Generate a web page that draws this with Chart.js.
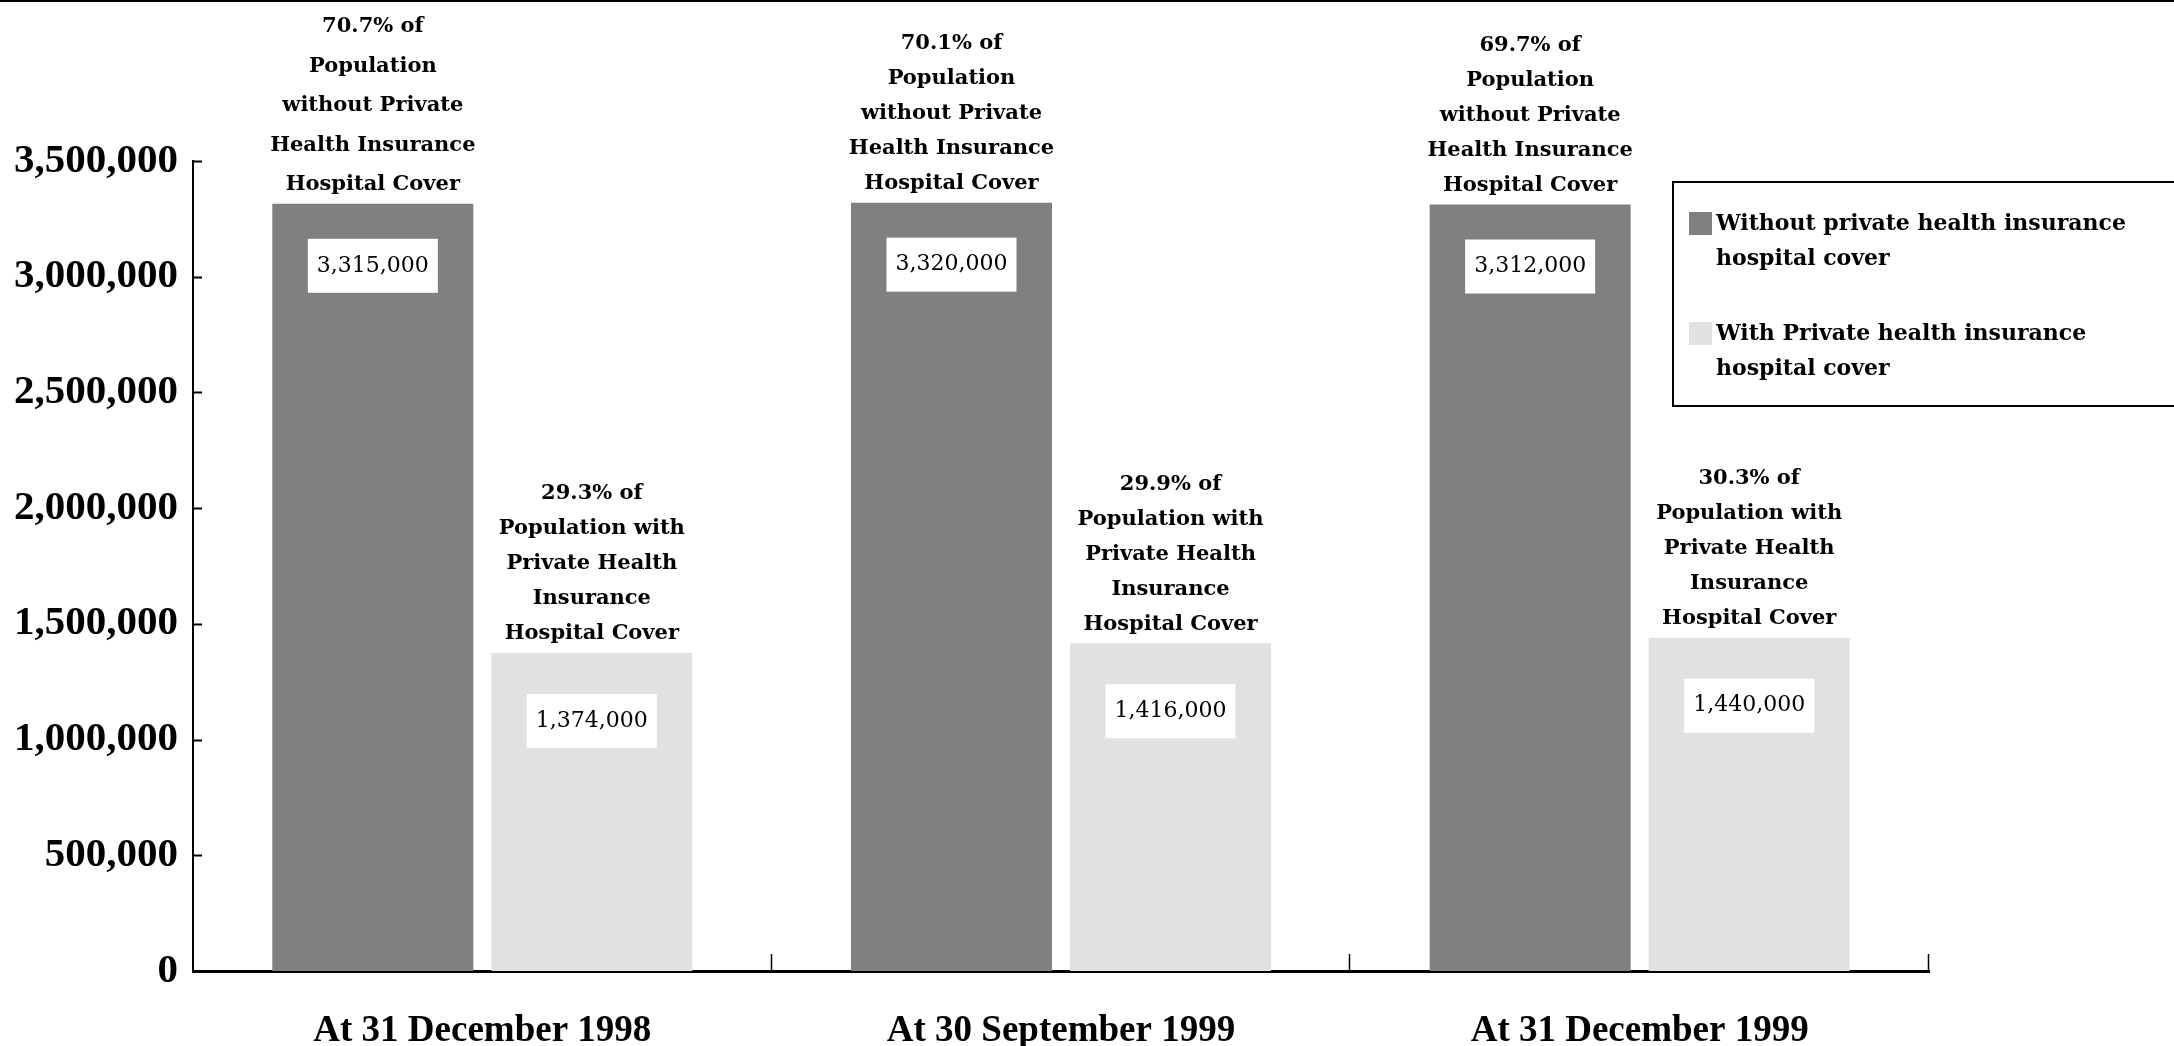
<!DOCTYPE html>
<html>
<head>
  <title>Hospital cover population</title>
  <script src="https://cdn.jsdelivr.net/npm/chart.js@4.4.0/dist/chart.umd.min.js"></script>
  <style>
    body { margin: 0; background: #fff; }
    canvas { display: block; }
  </style>
</head>
<body>
  <canvas id="coverChart" width="2174" height="1046"></canvas>

  <script>
    // Datos del grafico
    const categories = ['At 31 December 1998', 'At 30 September 1999', 'At 31 December 1999'];
    const withoutCover = [3315000, 3320000, 3312000];
    const withCover = [1374000, 1416000, 1440000];
    const withoutPct = ['70.7%', '70.1%', '69.7%'];
    const withPct = ['29.3%', '29.9%', '30.3%'];
    const seriesNames = [
      ['Without private health insurance', 'hospital cover'],
      ['With Private health insurance', 'hospital cover']
    ];
    const yMax = 3500000;
    const yStep = 500000;

    const darkGrey = '#808080';
    const lightGrey = '#e1e1e1';

    // Textos encima de las barras
    function annotationLines(ds, i) {
      if (ds === 0) {
        return [withoutPct[i] + ' of', 'Population', 'without Private', 'Health Insurance', 'Hospital Cover'];
      }
      return [withPct[i] + ' of', 'Population with', 'Private Health', 'Insurance', 'Hospital Cover'];
    }

    const fmt = v => v.toLocaleString('en-US');

    const decorPlugin = {
      id: 'decor',
      afterDraw(chart) {
        const ctx = chart.ctx;
        const area = chart.chartArea;
        const x = chart.scales.x;
        const y = chart.scales.y;
        ctx.save();

        // linea superior
        ctx.strokeStyle = '#000';
        ctx.lineWidth = 2;
        ctx.beginPath();
        ctx.moveTo(0, 1);
        ctx.lineTo(chart.width, 1);
        ctx.stroke();

        // marcas del eje y (hacia dentro)
        ctx.lineWidth = 2;
        for (let v = 0; v <= yMax; v += yStep) {
          const py = Math.round(y.getPixelForValue(v)) + 0.5;
          ctx.beginPath();
          ctx.moveTo(area.left, py);
          ctx.lineTo(area.left + 9, py);
          ctx.stroke();
        }

        // separadores de categorias
        const half = (x.getPixelForValue(1) - x.getPixelForValue(0)) / 2;
        ctx.lineWidth = 1.5;
        for (let i = 0; i < categories.length; i++) {
          const px = Math.round(x.getPixelForValue(i) + half) - 0.5;
          ctx.beginPath();
          ctx.moveTo(px, area.bottom);
          ctx.lineTo(px, area.bottom - 17);
          ctx.stroke();
        }

        // etiquetas de barras
        ctx.textAlign = 'center';
        ctx.textBaseline = 'middle';
        chart.data.datasets.forEach((d, ds) => {
          const meta = chart.getDatasetMeta(ds);
          meta.data.forEach((bar, i) => {
            const lines = annotationLines(ds, i);
            const gap = (ds === 0 && i === 0) ? 39.5 : 35;
            ctx.fillStyle = '#000';
            ctx.font = 'bold 21px "DejaVu Serif"';
            lines.forEach((t, k) => {
              const ly = bar.y - 19 - (lines.length - 1 - k) * gap;
              ctx.fillText(t, bar.x, ly);
            });

            // caja blanca con el valor
            const cy = bar.y + (ds === 0 ? 62 : 68);
            ctx.fillStyle = '#fff';
            ctx.fillRect(bar.x - 65, cy - 27, 130, 54);
            ctx.fillStyle = '#000';
            ctx.font = '22px "DejaVu Serif"';
            ctx.fillText(fmt(d.data[i]), bar.x, cy);
          });
        });

        // leyenda
        const lx = 1673, ly = 182;
        ctx.fillStyle = '#fff';
        ctx.fillRect(lx, ly, chart.width - lx + 5, 224);
        ctx.strokeStyle = '#000';
        ctx.lineWidth = 2;
        ctx.strokeRect(lx, ly, chart.width - lx + 5, 224);
        const colors = [darkGrey, lightGrey];
        const entryTop = [212, 322];
        ctx.textAlign = 'left';
        ctx.font = 'bold 22px "DejaVu Serif"';
        seriesNames.forEach((lines, k) => {
          ctx.fillStyle = colors[k];
          ctx.fillRect(1689, entryTop[k], 23, 23);
          ctx.fillStyle = '#000';
          lines.forEach((t, j) => {
            ctx.fillText(t, 1716, entryTop[k] + 12 + j * 35);
          });
        });

        ctx.restore();
      }
    };

    const coverChart = new Chart(document.getElementById('coverChart'), {
      type: 'bar',
      data: {
        labels: categories,
        datasets: [
          { label: seriesNames[0].join(' '), data: withoutCover, backgroundColor: darkGrey },
          { label: seriesNames[1].join(' '), data: withCover, backgroundColor: lightGrey }
        ]
      },
      options: {
        responsive: false,
        animation: false,
        categoryPercentage: 0.757,
        barPercentage: 0.918,
        layout: { padding: { top: 161, left: 12, right: 245, bottom: 0 } },
        plugins: {
          legend: { display: false },
          tooltip: { enabled: false }
        },
        scales: {
          x: {
            grid: { display: false },
            border: { display: true, color: '#000', width: 3 },
            ticks: {
              padding: 30,
              color: '#000',
              font: { family: 'Liberation Serif', size: 37, weight: 'bold' }
            },
            afterFit: s => { s.height = 75; }
          },
          y: {
            min: 0,
            max: yMax,
            grid: { display: false },
            border: { display: true, color: '#000', width: 2 },
            ticks: {
              stepSize: yStep,
              padding: 7,
              color: '#000',
              font: { family: 'Liberation Serif', size: 41, weight: 'bold' },
              callback: v => fmt(v)
            },
            afterFit: s => { s.width = 181; }
          }
        }
      },
      plugins: [decorPlugin]
    });
  </script>
</body>
</html>
